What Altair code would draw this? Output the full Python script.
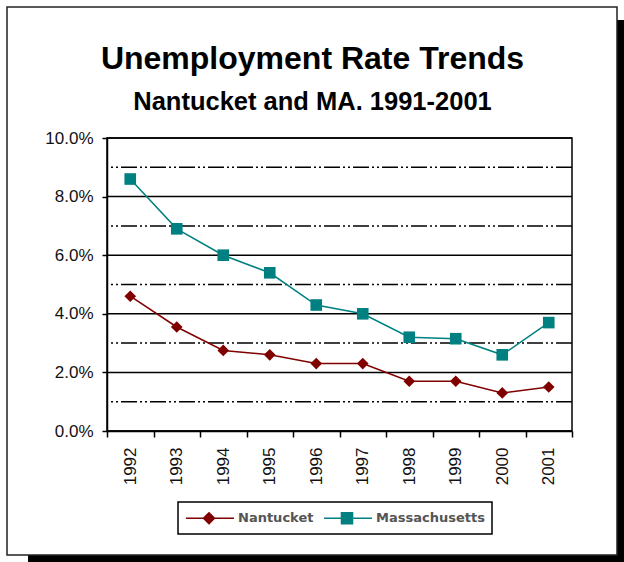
import altair as alt
import pandas as pd

years = ["1992", "1993", "1994", "1995", "1996", "1997", "1998", "1999", "2000", "2001"]
nantucket = [4.6, 3.55, 2.75, 2.6, 2.3, 2.3, 1.7, 1.7, 1.3, 1.5]
massachusetts = [8.6, 6.9, 6.0, 5.4, 4.3, 4.0, 3.2, 3.15, 2.6, 3.7]
series_names = ["Nantucket", "Massachusetts"]
major_ticks = [0, 2, 4, 6, 8, 10]
minor_grid = [1, 3, 5, 7, 9]

colors = ["#800000", "#008080"]
# legend glyphs: a short line with the series marker on it
legend_paths = [
    "M-1,0H5M1.875,-0.69L2.565,0L1.875,0.69L1.185,0Z",
    "M-1,0H5M1.185,-0.69H2.565V0.69H1.185Z",
]

rows = []
for name, vals in zip(series_names, [nantucket, massachusetts]):
    for yr, v in zip(years, vals):
        rows.append({"year": yr, "rate": v, "series": name})
df = pd.DataFrame(rows)
minor_df = pd.DataFrame({"g": minor_grid})
major_df = pd.DataFrame({"g": major_ticks})

W, H = 465, 293
PL, PT = 107, 138

x_enc = alt.X(
    "year:O",
    sort=years,
    scale=alt.Scale(type="band", paddingInner=0, paddingOuter=0),
    axis=alt.Axis(
        title=None, labelAngle=270, labelAlign="right", labelBaseline="middle",
        tickBand="extent", grid=False, tickSize=6, labelPadding=10,
        labelFont="Liberation Sans", labelFontSize=17, labelColor="#111",
        domainColor="black", domainWidth=1.5, tickColor="black", tickWidth=1.5, zindex=1,
    ),
)
y_scale = alt.Scale(domain=[0, 10], nice=False)
y_enc = alt.Y(
    "rate:Q",
    scale=y_scale,
    axis=alt.Axis(
        title=None, values=major_ticks, labelExpr="format(datum.value, '.1f') + '%'",
        grid=False, tickSize=5, labelPadding=9,
        labelFont="Liberation Sans", labelFontSize=17, labelColor="#111",
        domainColor="black", domainWidth=1.5, tickColor="black", tickWidth=1.5, zindex=1,
    ),
)
color_enc = alt.Color("series:N", sort=series_names, scale=alt.Scale(range=colors), legend=None)

box_data = alt.Data(values=[{"k": 1}])
shadow_r = alt.Chart(box_data).mark_rect(fill="black").encode(
    x=alt.value(617 - PL), x2=alt.value(624 - PL), y=alt.value(20 - PT), y2=alt.value(562 - PT)
)
shadow_b = alt.Chart(box_data).mark_rect(fill="black").encode(
    x=alt.value(28 - PL), x2=alt.value(624 - PL), y=alt.value(555 - PT), y2=alt.value(562 - PT)
)
frame = alt.Chart(box_data).mark_rect(fill="transparent", stroke="#222", strokeWidth=1.5).encode(
    x=alt.value(7 - PL), x2=alt.value(617 - PL), y=alt.value(7 - PT), y2=alt.value(555 - PT)
)

minor = alt.Chart(minor_df).mark_rule(color="black", strokeWidth=1.5, strokeDash=[16, 3, 2, 3, 2, 3]).encode(
    y=alt.Y("g:Q", scale=y_scale)
)
major = alt.Chart(major_df).mark_rule(color="black", strokeWidth=1.5).encode(
    y=alt.Y("g:Q", scale=y_scale)
)

base = alt.Chart(df)
lines = base.mark_line(strokeWidth=1.5).encode(x=x_enc, y=y_enc, color=color_enc)
points = base.transform_calculate(
    shp="datum.series == 'Nantucket' ? 'diamond' : 'square'"
).mark_point(filled=True, opacity=1, size=135).encode(
    x=x_enc, y=y_enc, color=color_enc, shape=alt.Shape("shp:N", scale=None)
)

legend = alt.Legend(
    orient="none", legendX=71, legendY=364, direction="horizontal", title=None,
    strokeColor="black", padding=7, symbolSize=256, symbolStrokeWidth=1.5,
    symbolOpacity=1, labelOffset=35, columnPadding=7, zindex=1,
    labelFont="DejaVu Sans", labelFontSize=13, labelFontWeight="bold", labelColor="#555",
)
legend_layer = base.mark_point(filled=True, opacity=0).encode(
    x=x_enc, y=y_enc,
    fill=alt.Fill("series:N", scale=alt.Scale(domain=series_names, range=colors), legend=legend),
    stroke=alt.Stroke("series:N", scale=alt.Scale(domain=series_names, range=colors), legend=legend),
    shape=alt.Shape("series:N", scale=alt.Scale(domain=series_names, range=legend_paths), legend=legend),
)

chart = alt.layer(shadow_r, shadow_b, frame, minor, major, lines, points, legend_layer).properties(
    width=W, height=H,
    title=alt.TitleParams(
        text="Unemployment Rate Trends", subtitle="Nantucket and MA. 1991-2001",
        font="Liberation Sans", fontSize=32, fontWeight="bold", color="black",
        subtitleFont="Liberation Sans", subtitleFontSize=25.5, subtitleFontWeight="bold",
        subtitleColor="black", anchor="middle", frame="group", dx=-27, offset=-110,
        subtitlePadding=14, zindex=1,
    ),
    padding={"left": PL, "top": PT, "right": 624 - PL - W, "bottom": 562 - PT - H},
    autosize=alt.AutoSizeParams(type="none"),
).configure_view(stroke="black", strokeWidth=1.5).configure_legend(strokeWidth=1.5)

chart.save("out.html", embed_options={"renderer": "svg", "actions": False})
